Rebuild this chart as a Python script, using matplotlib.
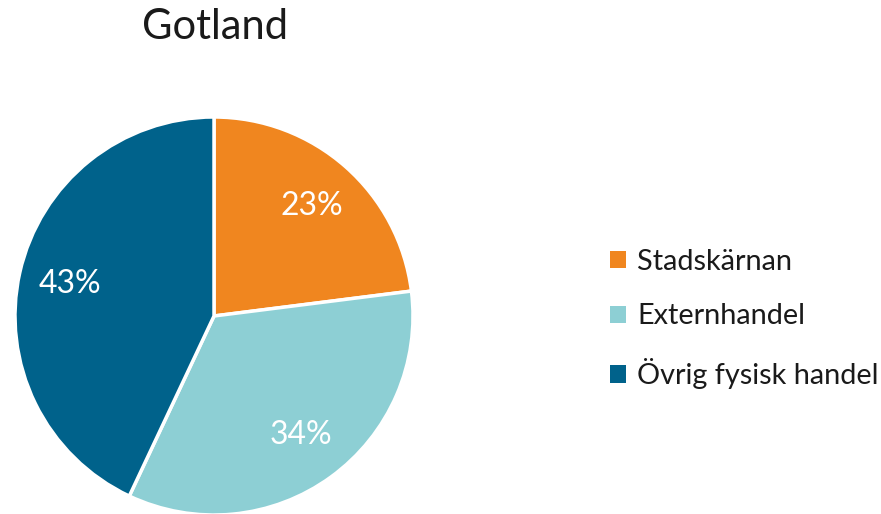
import matplotlib.pyplot as plt
from matplotlib.patches import Patch

kategorier = ['Stadskärnan', 'Externhandel', 'Övrig fysisk handel']
andel = [23, 34, 43]
farger = ['#F0861F', '#8DCFD4', '#00628B']

plt.rcParams['font.family'] = ['Lato', 'DejaVu Sans']

W, H = 881, 514
fig = plt.figure(figsize=(W / 100, H / 100), dpi=100)

# cirkeln: mitt (214, 316) px, radie 199 px
cx, cy, r = 214, 316, 199
ax = fig.add_axes([(cx - r) / W, (H - cy - r) / H, 2 * r / W, 2 * r / H])
wedges, texter, procent = ax.pie(
    andel, colors=farger, startangle=90, counterclock=False,
    autopct='%d%%', pctdistance=0.74,
    wedgeprops=dict(edgecolor='white', linewidth=2.5),
    textprops=dict(color='white', fontsize=23))
for w in wedges:
    w.set_clip_on(False)
ax.set_xlim(-1, 1)
ax.set_ylim(-1, 1)
ax.axis('off')

fig.text(215 / W, 1 - 27 / H, 'Gotland', ha='center', va='center',
         fontsize=30, color='#1a1a1a')

handles = [Patch(facecolor=c) for c in farger]
fig.legend(handles, kategorier, loc='center left',
           bbox_to_anchor=(584 / W, 1 - 319 / H), frameon=False,
           fontsize=20.8, handlelength=0.55, handleheight=0.55,
           handletextpad=0.4, labelspacing=1.0, labelcolor='#1a1a1a')

fig.savefig('out.png', dpi=100)
